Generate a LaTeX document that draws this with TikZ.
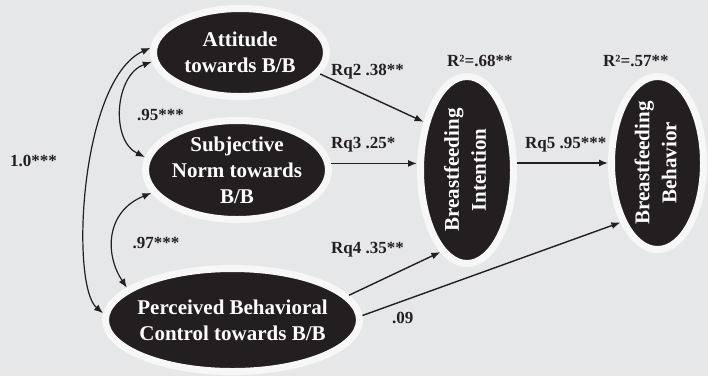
\documentclass[tikz,border=0pt]{standalone}
\usepackage{fontspec}
\setmainfont{Liberation Serif}
\usepackage{graphicx}
\usetikzlibrary{shapes.geometric,arrows.meta}
\definecolor{bg}{HTML}{E6E7E9}
\definecolor{ink}{HTML}{231F20}
\definecolor{ring}{HTML}{F7F7F7}
\begin{document}
\begin{tikzpicture}[x=1pt,y=-1pt,
  latent/.style={ellipse, fill=ink, draw=ring, line width=7pt, inner sep=-30pt,
    text=white, font=\bfseries\fontsize{21}{26}\selectfont, align=center},
  vtext/.style={font=\bfseries\fontsize{21}{27}\selectfont},
  regpath/.style={-{Latex[length=9pt,width=7pt]}, line width=1.4pt, draw=ink},
  cov/.style={{Latex[length=9pt,width=7pt]}-{Latex[length=9pt,width=7pt]}, line width=1.2pt, draw=ink},
  lab/.style={font=\bfseries\fontsize{17}{20}\selectfont, text=ink, inner sep=0pt}]
\fill[bg] (0,0) rectangle (708,376);
\useasboundingbox (0,0) rectangle (708,376);

\node[latent, minimum width=173pt, minimum height=88pt] (att) at (240,52.5) {Attitude\\towards B/B};
\node[latent, minimum width=183pt, minimum height=99pt] (sub) at (237,170) {Subjective\\Norm towards\\B/B};
\node[latent, minimum width=254pt, minimum height=103pt] (per) at (232.5,320) {Perceived Behavioral\\Control towards B/B};
\node[latent, vtext, minimum width=93pt, minimum height=187pt] (int) at (467,170)
  {\rotatebox{90}{\begin{tabular}{@{}c@{}}Breastfeeding\\Intention\end{tabular}}};
\node[latent, vtext, minimum width=92pt, minimum height=173pt] (beh) at (657.5,163)
  {\rotatebox{90}{\begin{tabular}{@{}c@{}}Breastfeeding\\Behavior\end{tabular}}};

\draw[regpath] (att.-15) -- (int.132);
\draw[regpath] (sub.4) -- (sub.4 -| int.west);
\draw[regpath] (int.8) -- (int.8 -| beh.west);
\draw[regpath] (per.12) -- (int.252);
\draw[regpath] (per.2) -- (beh.238);

\draw[cov] (att.177) .. controls (80,80) and (70,285) .. (per.177);
\draw[cov] (att.186) .. controls (115,75) and (110,140) .. (sub.172);
\draw[cov] (sub.195) .. controls (105,212) and (105,255) .. (per.163);

\node[lab, anchor=base] (l10) at (33.5,166) {1.0***};
\node[lab, anchor=base] (l95) at (160.5,120) {.95***};
\node[lab, anchor=base] (l97) at (156,248) {.97***};
\node[lab, anchor=base west] (rq2) at (331,75.5) {Rq2 .38**};
\node[lab, anchor=base west] (rq3) at (331,148) {Rq3 .25*};
\node[lab, anchor=base west] (rq4) at (331,253) {Rq4 .35**};
\node[lab, anchor=base west] (rq5) at (525,148) {Rq5 .95***};
\node[lab, anchor=base west] (l09) at (392,323) {.09};
\node[lab, anchor=base west] (r1) at (447,66) {R²=.68**};
\node[lab, anchor=base west] (r2) at (603,66) {R²=.57**};
\end{tikzpicture}
\end{document}
